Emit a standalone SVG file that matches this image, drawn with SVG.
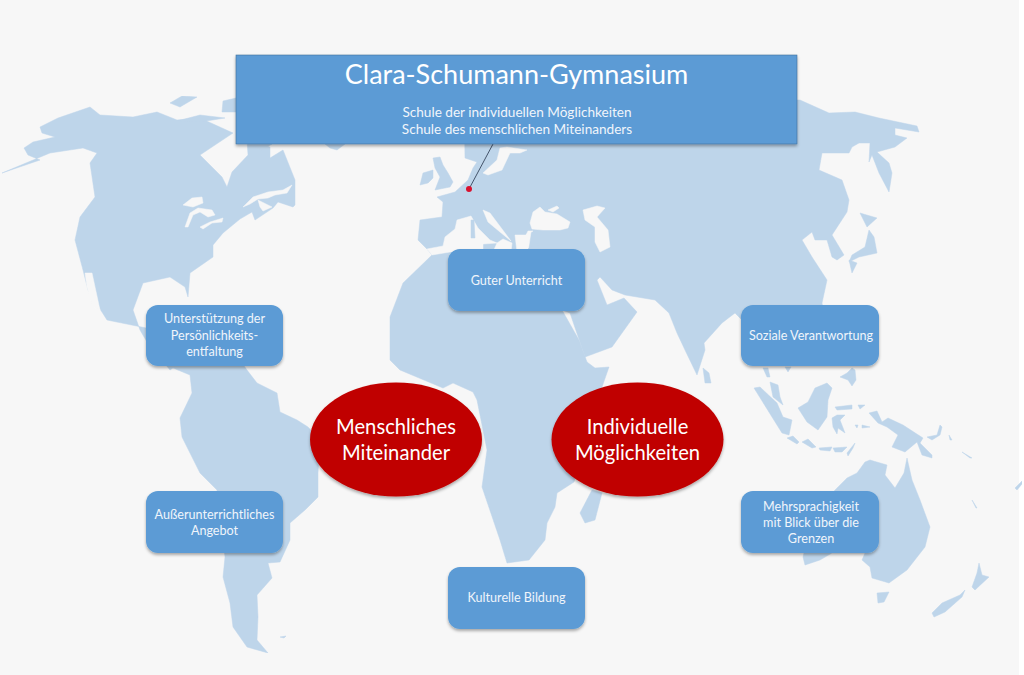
<svg xmlns="http://www.w3.org/2000/svg" width="1024" height="675" viewBox="0 0 1024 675">
<defs>
<style>
.land{fill:#bed5ea;stroke:#bed5ea;stroke-width:.5;stroke-linejoin:round}
.sea{fill:#f7f7f7;stroke:#f7f7f7;stroke-width:.5;stroke-linejoin:round}
.box{fill:#5b9bd5;filter:url(#sh)}
.oval{fill:#c00000;filter:url(#sh)}
text{font-family:"Lato","Open Sans","Liberation Sans",sans-serif;text-anchor:middle;fill:#fff}
.t{font-size:12.600px;fill:#f0f5fb}
.s{font-size:13.600px;fill:#f0f5fb}
.o{font-size:20.200px}
</style>
<filter id="sh" x="-10%" y="-10%" width="120%" height="125%"><feDropShadow dx="0" dy="2" stdDeviation="1.6" flood-color="#000" flood-opacity=".32"/></filter>
<filter id="soft" x="0" y="0" width="100%" height="100%"><feGaussianBlur stdDeviation=".6"/></filter>
</defs>
<rect width="1024" height="675" fill="#f7f7f7"/>
<rect x="1019" width="5" height="675" fill="#fff"/>
<g id="map" filter="url(#soft)">
<path class="land" d="M2 173 40 160 28 155 24 148 33 142 55 137 42 133 40 127 58 118 90 107 100 115 133 117 157 112 177 120 200 118 233 133 200 155 213 168 222 177 227 187 232 172 248 155 247 140 270 147 270 158 283 150 295 180 295 205 293 207 278 202 273 208 255 220 252 212 240 219 223 233 213 245 213 257 190 273 188 297 185 287 170 277 143 283 133 310 140 330 147 342 170 370 173 368 230 345 107 320 88 290 83 270 75 240 80 217 95 197 90 163 97 153 83 148 50 153Z"/>
<path class="land" d="M170 103 182 96 197 97 180 107ZM223 101 236 98 236 112 222 112ZM177 121 200 115 225 118 200 122ZM325 144 345 144 337 150 330 148ZM250 144 272 144 262 150Z"/>
<path class="sea" d="M85 273 92 273 100 310 93 307 87 287ZM183 205 192 198 202 197 203 203 193 207ZM185 227 190 213 198 208 212 210 215 215 208 217 200 212 193 215 188 227ZM200 227 210 222 223 218 222 222 212 223 203 229ZM243 207 253 197 268 192 283 190 292 185 287 193 275 195 268 198 258 199 250 204ZM258 200 272 207 263 211 260 207Z"/>
<path class="land" d="M173 368 190 375 192 393 180 418 182 437 200 473 217 490 225 557 223 577 230 603 233 627 247 647 268 653 257 640 258 617 257 595 272 578 268 563 280 562 290 540 290 523 305 510 318 497 318 473 320 440 308 427 297 420 280 412 277 393 257 383 247 370 240 360 180 360Z"/>
<path class="land" d="M280 637 286 636 284 638Z"/>
<path class="land" d="M418 240 420 220 442 217 443 202 437 197 455 192 468 180 473 168 477 162 465 158 464 100 800 100 829 113 855 112 879 118 917 126 919 132 895 128 895 135 907 138 895 147 877 152 889 163 892 173 889 192 879 173 872 155 869 162 870 143 859 143 852 147 849 153 822 153 819 170 842 180 849 200 847 212 832 235 844 255 837 260 832 257 827 240 815 240 812 232 802 240 812 257 827 280 822 303 830 350 770 350 742 320 735 313 722 323 704 343 705 350 697 375 685 350 677 333 669 313 655 300 625 295 612 290 600 277 597 280 607 305 624 298 637 312 612 347 585 357 570 313 562 310 560 280 460 260 450 249 432 255 427 249Z"/>
<path class="land" d="M432 255 403 283 390 317 390 360 400 370 443 388 453 383 473 392 477 400 487 450 482 487 500 540 507 563 529 560 545 540 547 523 555 507 557 493 574 482 602 387 609 367 595 368 587 362 579 340 562 310 500 290 450 249Z"/>
<path class="sea" d="M432 255 427 249 443 246 445 237 455 229 457 220 471 216 478 228 490 240 497 243 483 244 483 252 450 252ZM497 243 503 239 512 243 511 252 493 252ZM483 210 490 213 505 233 511 241 500 232 488 222ZM515 235 526 235 531 232 528 252 517 252ZM533 212 540 207 545 212 557 214 570 222 568 228 560 230 543 230 532 229 530 223ZM548 210 557 206 559 208 553 212ZM533 231 526 235 528 231ZM583 210 597 206 605 208 597 217 608 230 610 247 600 252 595 242 595 227 585 220ZM483 173 497 160 500 148 507 147 527 150 520 153 510 153 502 170 488 175Z"/>
<path class="land" d="M471 220 474 220 475 238 471 238ZM433 158 440 157 443 165 448 173 453 182 450 187 435 190 440 177 435 168ZM420 185 423 173 433 170 433 178 428 183ZM592 490 602 493 595 520 585 523 580 513ZM703 368 709 373 711 383 705 383ZM536 242 532 246 528 249 540 249Z"/>
<path class="land" d="M860 213 877 218 867 227ZM869 230 874 237 877 253 859 257 849 262 852 255 865 247ZM849 260 857 263 852 273ZM763 368 768 368 770 377 767 377ZM785 367 791 367 788 372Z"/>
<path class="land" d="M754 388 760 387 777 403 783 417 792 420 789 435 782 433 772 417ZM770 382 778 385 780 397 783 405 773 397ZM798 408 808 402 815 388 827 383 832 388 828 400 827 417 818 430 807 422ZM787 438 793 436 799 442 797 444ZM802 442 808 439 816 447 812 448ZM819 448 832 447 830 451 820 450ZM833 448 847 447 842 452 835 452ZM847 453 855 443 853 448 848 456ZM832 418 837 415 845 415 840 420 845 433 838 428 837 434 833 427ZM835 407 852 405 852 409 837 410ZM858 405 865 405 860 409ZM855 425 858 425 857 428ZM862 425 870 427 862 428Z"/>
<path class="land" d="M869 413 877 411 882 422 888 418 903 425 923 438 920 443 932 455 932 458 922 455 917 442 905 452 892 447 898 435 887 427 878 423ZM927 437 937 435 940 425 942 427 940 435 932 440ZM949 435 952 440 950 440ZM962 452 972 458 970 458Z"/>
<path class="land" d="M840 377 847 373 852 368 855 370 856 380 852 386 848 380Z"/>
<path class="land" d="M835 490 847 478 857 473 865 462 870 460 887 465 885 475 895 488 904 473 907 458 912 480 920 500 930 527 925 547 907 570 889 583 872 578 870 567 862 560 865 553 832 553 820 560 805 565 803 557 812 520Z"/>
<path class="land" d="M877 593 889 592 884 602 878 603ZM932 613 942 603 960 595 965 590 962 597 945 612 934 617ZM972 587 977 573 979 563 982 575 989 577 975 590ZM972 500 977 508 976 508ZM1015 488 1022 481 1022 484 1017 490Z"/>
</g>
<g id="connectors">
<line x1="493" y1="144" x2="469" y2="189" stroke="#44546a" stroke-width="1"/>
</g>
<circle id="marker-dot" cx="469" cy="189" r="3" fill="#d9102e"/>
<g id="header">
<rect class="box" x="236" y="55" width="561" height="89" stroke="#41719c" stroke-width=".6"/>
<text x="516.500" y="84" font-size="27">Clara-Schumann-Gymnasium</text>
<text class="s" x="517" y="117">Schule der individuellen Möglichkeiten</text>
<text class="s" x="517" y="134">Schule des menschlichen Miteinanders</text>
</g>
<g id="guter-unterricht"><rect class="box" x="448" y="249" width="137" height="62" rx="12"/><text class="t" x="516.500" y="285">Guter Unterricht</text></g>
<g id="unterstuetzung"><rect class="box" x="146" y="305" width="137" height="61" rx="12"/><text class="t" x="214.500" y="323">Unterstützung der</text><text class="t" x="214.500" y="340">Persönlichkeits-</text><text class="t" x="214.500" y="356">entfaltung</text></g>
<g id="soziale"><rect class="box" x="741" y="305" width="138" height="61" rx="12"/><text class="t" x="811" y="340">Soziale Verantwortung</text></g>
<g id="ausserunterrichtlich"><rect class="box" x="146" y="491" width="137" height="62" rx="12"/><text class="t" x="214.500" y="519">Außerunterrichtliches</text><text class="t" x="214.500" y="535">Angebot</text></g>
<g id="mehrsprachigkeit"><rect class="box" x="741" y="491" width="138" height="62" rx="12"/><text class="t" x="811" y="511">Mehrsprachigkeit</text><text class="t" x="811" y="527">mit Blick über die</text><text class="t" x="811" y="543">Grenzen</text></g>
<g id="kulturelle-bildung"><rect class="box" x="448" y="567" width="137" height="62" rx="12"/><text class="t" x="516.500" y="602">Kulturelle Bildung</text></g>
<g id="menschliches"><ellipse class="oval" cx="396" cy="439.500" rx="86" ry="57"/><text class="o" x="396" y="434">Menschliches</text><text class="o" x="396" y="460">Miteinander</text></g>
<g id="individuelle"><ellipse class="oval" cx="637.500" cy="439.500" rx="86" ry="57"/><text class="o" x="637.500" y="434">Individuelle</text><text class="o" x="637.500" y="460">Möglichkeiten</text></g>
</svg>
